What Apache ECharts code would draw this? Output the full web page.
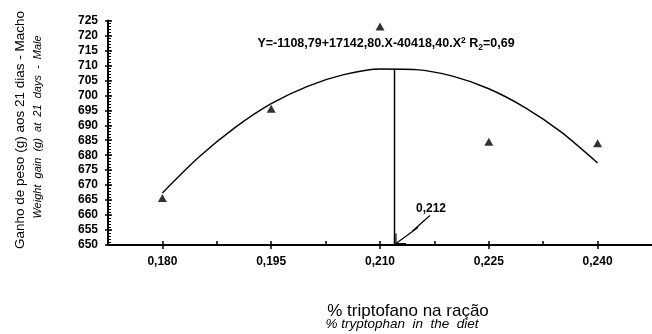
<!DOCTYPE html>
<html>
<head>
<meta charset="utf-8">
<script src="https://cdn.jsdelivr.net/npm/echarts@6/dist/echarts.min.js"></script>
<style>html,body{margin:0;padding:0;background:#fff}#c{width:652px;height:334px}</style>
</head>
<body>
<div id="c"></div>
<script>
// ---- data ----
const xTickValues = [0.180, 0.195, 0.210, 0.225, 0.240];
const xMinorValues = [0.1875, 0.2025, 0.2175, 0.2325];
const obsX = [0.180, 0.195, 0.210, 0.225, 0.240];
const obsY = [665.7, 695.5, 723.0, 684.5, 684.0];
const fitX = [0.180, 0.185, 0.190, 0.195, 0.200, 0.205, 0.210, 0.215, 0.220, 0.225, 0.230, 0.235, 0.240];
const fitY = [667.4, 679.3, 689.2, 697.2, 703.0, 706.9, 708.8, 708.6, 706.4, 702.2, 695.9, 687.7, 677.4];
const peakX = 0.212;
const peakY = 708.9;
const peakLabel = '0,212';
const yMin = 650, yMax = 725, yStep = 5, yMinorStep = 1;
const xMin = 0.1725, xMax = 0.2475;
const yTitle1 = 'Ganho de peso (g) aos 21 dias - Macho';
const yTitle2 = 'Weight  gain  (g)  at  21  days  -  Male';
const xTitle1 = '% triptofano na ração';
const xTitle2 = '% tryptophan  in  the  diet';

const FONT = 'Liberation Sans, Arial, sans-serif';
const chart = echarts.init(document.getElementById('c'), null, {renderer: 'canvas'});
const fmtX = v => v.toFixed(3).replace('.', ',');

const option = {
  animation: false,
  backgroundColor: '#fff',
  grid: {left: 108, right: 0, top: 20.5, bottom: 89},
  xAxis: [
    {
      type: 'value', min: xMin, max: xMax, position: 'bottom',
      axisLine: {onZero: false, lineStyle: {color: '#000', width: 2}},
      axisTick: {show: true, inside: false, length: 4, customValues: xTickValues, lineStyle: {color: '#000', width: 1.5}},
      axisLabel: {customValues: xTickValues, formatter: fmtX, color: '#000', fontWeight: 'bold', fontSize: 12, fontFamily: FONT, margin: 11},
      splitLine: {show: false}
    },
    {
      type: 'value', min: xMin, max: xMax, position: 'bottom',
      axisLine: {show: false, onZero: false},
      axisTick: {show: true, inside: true, length: 4, customValues: xTickValues.concat(xMinorValues), lineStyle: {color: '#000', width: 1.5}},
      axisLabel: {show: false},
      splitLine: {show: false}
    }
  ],
  yAxis: [
    {
      type: 'value', min: yMin, max: yMax, interval: yStep, position: 'left',
      axisLine: {show: true, onZero: false, lineStyle: {color: '#000', width: 2}},
      axisTick: {show: true, inside: true, length: 4, lineStyle: {color: '#000', width: 1.5}},
      axisLabel: {color: '#000', fontWeight: 'bold', fontSize: 12, fontFamily: FONT, margin: 10},
      splitLine: {show: false}
    },
    {
      type: 'value', min: yMin, max: yMax, interval: yStep, position: 'left',
      axisLine: {show: false, onZero: false},
      axisTick: {show: true, inside: false, length: 3, lineStyle: {color: '#000', width: 1.5}},
      axisLabel: {show: false},
      splitLine: {show: false}
    },
    {
      type: 'value', min: yMin, max: yMax, interval: yMinorStep, position: 'left',
      axisLine: {show: false, onZero: false},
      axisTick: {show: true, inside: true, length: 3, lineStyle: {color: '#000', width: 1}},
      axisLabel: {show: false},
      splitLine: {show: false}
    }
  ],
  series: [
    {
      type: 'line', xAxisIndex: 0, yAxisIndex: 0,
      data: fitX.map((x, i) => [x, fitY[i]]),
      smooth: 0.25, showSymbol: false, symbol: 'none',
      lineStyle: {color: '#000', width: 1.4}, z: 2
    },
    {
      type: 'line', xAxisIndex: 0, yAxisIndex: 0,
      data: [[peakX, yMin], [peakX, peakY]],
      showSymbol: false, symbol: 'none',
      lineStyle: {color: '#000', width: 1.5}, z: 2
    },
    {
      type: 'scatter', xAxisIndex: 0, yAxisIndex: 0,
      data: obsX.map((x, i) => [x, obsY[i]]),
      symbol: 'triangle', symbolSize: [9, 8],
      itemStyle: {color: '#000'}, z: 3
    }
  ]
};
chart.setOption(option);

const tip = chart.convertToPixel({xAxisIndex: 0, yAxisIndex: 0}, [peakX + 0.0002, yMin + 0.5]);
const tx = tip[0], ty = tip[1];

chart.setOption({
  graphic: [
    {type: 'text', x: 20, y: 130, rotation: Math.PI / 2,
      style: {text: yTitle1, fill: '#000', font: '13.5px ' + FONT, textAlign: 'center', textVerticalAlign: 'middle'}},
    {type: 'text', x: 38, y: 127, rotation: Math.PI / 2,
      style: {text: yTitle2, fill: '#000', font: 'italic 11px ' + FONT, textAlign: 'center', textVerticalAlign: 'middle'}},
    {type: 'text', x: 408, y: 311,
      style: {text: xTitle1, fill: '#000', font: '17px ' + FONT, textAlign: 'center', textVerticalAlign: 'middle'}},
    {type: 'text', x: 402, y: 324,
      style: {text: xTitle2, fill: '#000', font: 'italic 13.5px ' + FONT, textAlign: 'center', textVerticalAlign: 'middle'}},
    {type: 'text', x: 386, y: 44,
      style: {
        text: '{a|Y=-1108,79+17142,80.X-40418,40.X}{s|2}{a| R}{b|2}{a|=0,69}',
        textAlign: 'center', textVerticalAlign: 'middle',
        rich: {
          a: {fontSize: 12.5, fontWeight: 'bold', fontFamily: FONT, color: '#000', lineHeight: 16},
          s: {fontSize: 8.5, fontWeight: 'bold', fontFamily: FONT, color: '#000', verticalAlign: 'top', lineHeight: 16},
          b: {fontSize: 8.5, fontWeight: 'bold', fontFamily: FONT, color: '#000', verticalAlign: 'bottom', lineHeight: 14}
        }
      }},
    {type: 'text', x: tx + 20, y: ty - 35,
      style: {text: peakLabel, fill: '#000', font: 'bold 12px ' + FONT, textAlign: 'left', textVerticalAlign: 'middle'}},
    {type: 'polyline', shape: {points: [[tx + 34, ty - 28], [tx + 16, ty - 12], [tx + 22, ty - 16], [tx, ty]]},
      style: {stroke: '#000', lineWidth: 1.2, fill: null}},
    {type: 'polyline', shape: {points: [[tx, ty - 10], [tx, ty], [tx + 10, ty]]},
      style: {stroke: '#000', lineWidth: 1.2, fill: null}}
  ]
});
</script>
</body>
</html>
